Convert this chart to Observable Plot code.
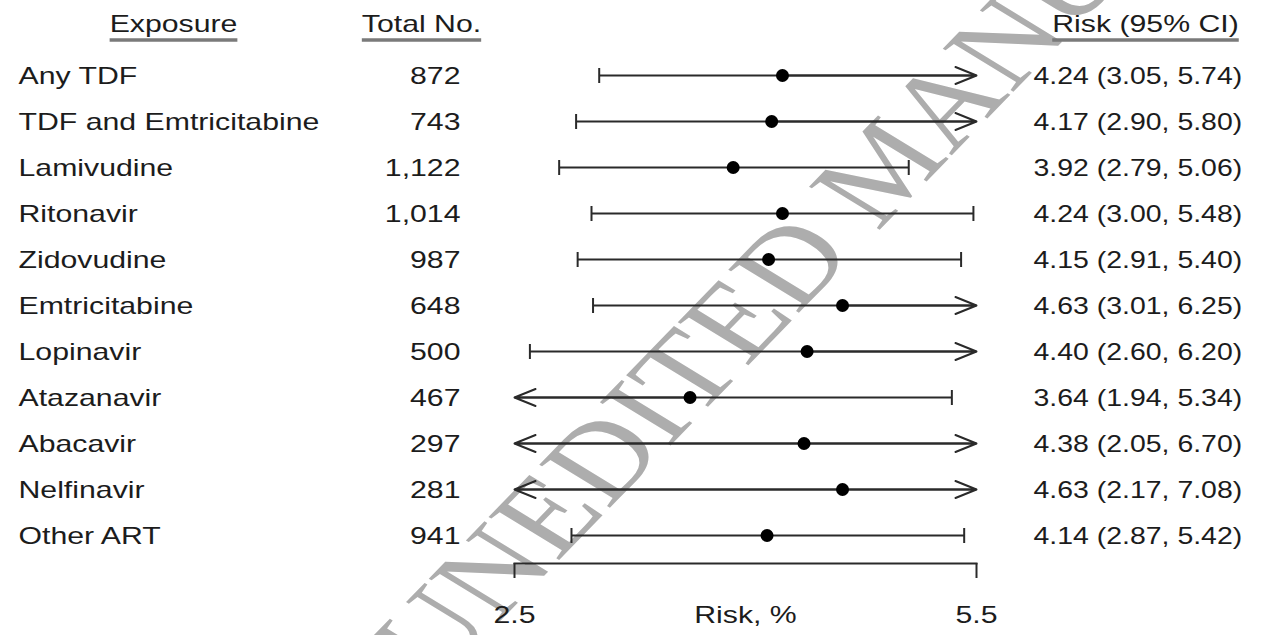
<!DOCTYPE html>
<html><head><meta charset="utf-8">
<script src="https://cdn.jsdelivr.net/npm/d3@7"></script>
<script src="https://cdn.jsdelivr.net/npm/@observablehq/plot@0.6"></script>
<style>html,body{margin:0;padding:0;background:#fff}svg{display:block}</style>
</head><body><div id="chart"></div>
<script>
// ---- data ----
const exposures = ["Any TDF","TDF and Emtricitabine","Lamivudine","Ritonavir","Zidovudine","Emtricitabine","Lopinavir","Atazanavir","Abacavir","Nelfinavir","Other ART"];
const totals = ["872","743","1,122","1,014","987","648","500","467","297","281","941"];
const estimates = [4.24,4.17,3.92,4.24,4.15,4.63,4.40,3.64,4.38,4.63,4.14];
const lower = [3.05,2.90,2.79,3.00,2.91,3.01,2.60,1.94,2.05,2.17,2.87];
const upper = [5.74,5.80,5.06,5.48,5.40,6.25,6.20,5.34,6.70,7.08,5.42];
const axisDomain = [2.5, 5.5];
const axisTicks = [2.5, 5.5];
const axisLabel = "Risk, %";
const headers = ["Exposure","Total No.","Risk (95% CI)"];
const watermark = "UNEDITED MANUSCRIPT";

// ---- derived table ----
const [xmin, xmax] = axisDomain;
const rows = exposures.map((e, i) => ({
  exposure: e,
  total: totals[i],
  est: estimates[i],
  lo: lower[i],
  hi: upper[i],
  left: Math.max(lower[i], xmin),
  right: Math.min(upper[i], xmax),
  risk: `${estimates[i].toFixed(2)} (${lower[i].toFixed(2)}, ${upper[i].toFixed(2)})`
}));

const ink = "#1c1c1c";
const lineInk = "#2a2a2a";
const tickSymbol = {draw(ctx, size) { const h = Math.sqrt(size / Math.PI); ctx.moveTo(0, -h); ctx.lineTo(0, h); }};

const W = 1268, H = 635;
const mL = 514, mR = 292, mT = 52, mB = 72;

const chart = Plot.plot({
  width: W, height: H,
  marginLeft: mL, marginRight: mR, marginTop: mT, marginBottom: mB,
  x: {domain: axisDomain, axis: null},
  y: {type: "point", domain: exposures, range: [75, 535], padding: 0, axis: null},
  style: {fontFamily: "'Liberation Sans', Arial, sans-serif", fontSize: "24px", color: ink, background: "#fff"},
  marks: [
    Plot.frame({anchor: "bottom", stroke: lineInk, strokeWidth: 2}),
    Plot.axisX(axisTicks, {anchor: "bottom", tickSize: 15, tickPadding: 27, strokeWidth: 2, stroke: lineInk, fill: ink, fontSize: 24, tickFormat: d => d.toFixed(1), label: null}),
    Plot.text([axisLabel], {frameAnchor: "bottom", dy: 52, fontSize: 24, fill: ink, lineAnchor: "middle"}),
    // CI lines
    Plot.link(rows, {x1: "left", x2: "right", y1: "exposure", y2: "exposure", stroke: lineInk, strokeWidth: 2}),
    Plot.arrow(rows.filter(d => d.lo < xmin), {x1: "est", x2: "left", y1: "exposure", y2: "exposure", stroke: lineInk, strokeWidth: 2, headLength: 17, headAngle: 44}),
    Plot.arrow(rows.filter(d => d.hi > xmax), {x1: "est", x2: "right", y1: "exposure", y2: "exposure", stroke: lineInk, strokeWidth: 2, headLength: 17, headAngle: 44}),
    Plot.dot(rows.filter(d => d.lo >= xmin), {x: "lo", y: "exposure", symbol: tickSymbol, r: 7.5, stroke: lineInk, strokeWidth: 2, fill: "none"}),
    Plot.dot(rows.filter(d => d.hi <= xmax), {x: "hi", y: "exposure", symbol: tickSymbol, r: 7.5, stroke: lineInk, strokeWidth: 2, fill: "none"}),
    Plot.dot(rows, {x: "est", y: "exposure", r: 6.5, fill: "#000", stroke: "none"}),
    // table columns
    Plot.text(rows, {y: "exposure", text: "exposure", frameAnchor: "left", dx: 18 - mL, dy: 1, textAnchor: "start", fill: ink}),
    Plot.text(rows, {y: "exposure", text: "total", frameAnchor: "left", dx: 460 - mL, dy: 1, textAnchor: "end", fill: ink}),
    Plot.text(rows, {y: "exposure", text: "risk", frameAnchor: "right", dx: 1033 - (W - mR), dy: 1, textAnchor: "start", fill: ink, className: "riskcol"}),
    // headers
    Plot.text([headers[0]], {frameAnchor: "top-left", dx: 173 - mL, dy: 24 - mT, textAnchor: "middle", lineAnchor: "middle", fill: ink, className: "hdr"}),
    Plot.text([headers[1]], {frameAnchor: "top-left", dx: 421 - mL, dy: 24 - mT, textAnchor: "middle", lineAnchor: "middle", fill: ink, className: "hdr"}),
    Plot.text([headers[2]], {frameAnchor: "top-left", dx: 1145 - mL, dy: 24 - mT, textAnchor: "middle", lineAnchor: "middle", fill: ink, className: "hdr"})
  ]
});

document.getElementById("chart").appendChild(chart);
const svgNS = "http://www.w3.org/2000/svg";
chart.querySelectorAll("text").forEach(t => {
  const stretch = t.closest("g.riskcol") ? 1.185 : 1.26;
  const w = t.getComputedTextLength();
  if (w > 0) { t.setAttribute("textLength", (w * stretch).toFixed(2)); t.setAttribute("lengthAdjust", "spacingAndGlyphs"); }
});
// header underlines
chart.querySelectorAll("g.hdr text").forEach(t => {
  const b = t.getBBox();
  const r = chart.getScreenCTM().inverse().multiply(t.getScreenCTM());
  const x0 = r.a * b.x + r.e, x1 = r.a * (b.x + b.width) + r.e;
  const ln = document.createElementNS(svgNS, "line");
  ln.setAttribute("x1", x0); ln.setAttribute("x2", x1);
  ln.setAttribute("y1", 40); ln.setAttribute("y2", 40);
  ln.setAttribute("stroke", "#7a7a7a"); ln.setAttribute("stroke-width", 3.5);
  chart.appendChild(ln);
});
// watermark behind everything
const wm = document.createElementNS(svgNS, "text");
wm.textContent = watermark;
wm.setAttribute("transform", "scale(1.26,1) translate(346.8,686) rotate(-52.4)");
wm.setAttribute("text-anchor", "start");
wm.setAttribute("font-family", "'Liberation Serif', 'DejaVu Serif', serif");
wm.setAttribute("font-size", 108);
wm.setAttribute("fill", "#adadad");
const styleEl = chart.querySelector("style");
chart.insertBefore(wm, styleEl ? styleEl.nextSibling : chart.firstChild);
</script>
</body></html>
